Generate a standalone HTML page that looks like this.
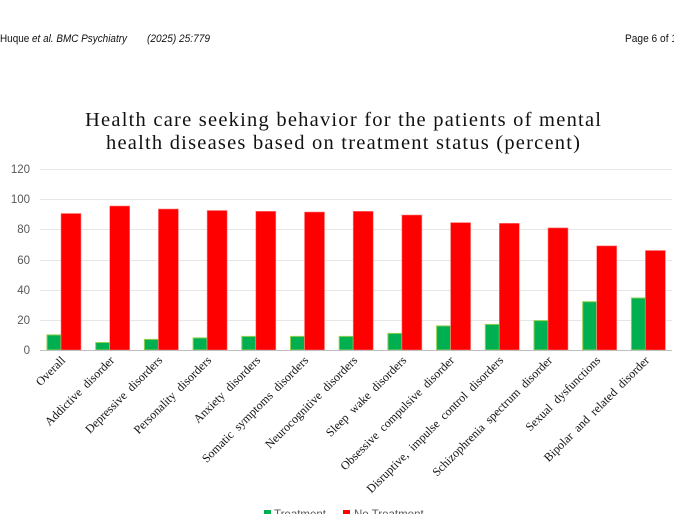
<!DOCTYPE html>
<html><head><meta charset="utf-8"><style>
html,body{margin:0;padding:0;background:#fff;width:674px;height:514px;overflow:hidden}
svg{display:block}
.hd{font-family:"Liberation Sans",sans-serif;font-size:11px;fill:#111}
.tt{font-family:"Liberation Serif",serif;font-size:20.5px;fill:#111}
.ax{font-family:"Liberation Sans",sans-serif;font-size:11.5px;fill:#595959}
.lb{font-family:"Liberation Serif",serif;font-size:12px;fill:#111;word-spacing:3px}
.lg{font-family:"Liberation Sans",sans-serif;font-size:11.5px;fill:#595959}
.g{fill:#00b050;stroke:#92d050;stroke-width:1}
.r{fill:#ff0000;stroke:#ff7f7f;stroke-width:0.6}
</style></head><body>
<svg width="674" height="514" xmlns="http://www.w3.org/2000/svg">
<text class="hd" x="0" y="42" font-style="italic" textLength="127" lengthAdjust="spacingAndGlyphs"><tspan font-style="normal">Huque</tspan> et al. BMC Psychiatry</text>
<text class="hd" x="147" y="42" font-style="italic" textLength="63" lengthAdjust="spacingAndGlyphs">(2025) 25:779</text>
<text class="hd" x="625" y="42" textLength="52" lengthAdjust="spacingAndGlyphs">Page 6 of 1</text>
<text class="tt" x="85" y="126" textLength="516" lengthAdjust="spacing">Health care seeking behavior for the patients of mental</text>
<text class="tt" x="106" y="149" textLength="474" lengthAdjust="spacing">health diseases based on treatment status (percent)</text>
<g stroke="#e6e6e6" stroke-width="1">
<line x1="40" x2="672" y1="169.5" y2="169.5"/><line x1="40" x2="672" y1="199.5" y2="199.5"/>
<line x1="40" x2="672" y1="229.5" y2="229.5"/><line x1="40" x2="672" y1="260.5" y2="260.5"/>
<line x1="40" x2="672" y1="290.5" y2="290.5"/><line x1="40" x2="672" y1="320.5" y2="320.5"/>
</g>
<g class="ax" text-anchor="end">
<text x="30" y="173">120</text><text x="30" y="203">100</text><text x="30" y="233">80</text>
<text x="30" y="264">60</text><text x="30" y="294">40</text><text x="30" y="324">20</text><text x="30" y="354">0</text>
</g>
<rect class="g" x="47" y="334.9" width="14" height="15.1"/><rect class="r" x="61" y="213.5" width="20" height="136.5"/>
<rect class="g" x="95.7" y="342.5" width="14" height="7.5"/><rect class="r" x="109.7" y="206" width="20" height="144"/>
<rect class="g" x="144.4" y="339.4" width="14" height="10.6"/><rect class="r" x="158.4" y="209" width="20" height="141"/>
<rect class="g" x="193.1" y="337.9" width="14" height="12.1"/><rect class="r" x="207.1" y="210.5" width="20" height="139.5"/>
<rect class="g" x="241.8" y="336.4" width="14" height="13.6"/><rect class="r" x="255.8" y="211.3" width="20" height="138.7"/>
<rect class="g" x="290.5" y="336.4" width="14" height="13.6"/><rect class="r" x="304.5" y="212" width="20" height="138"/>
<rect class="g" x="339.2" y="336.4" width="14" height="13.6"/><rect class="r" x="353.2" y="211.3" width="20" height="138.7"/>
<rect class="g" x="387.9" y="333.4" width="14" height="16.6"/><rect class="r" x="401.9" y="215" width="20" height="135"/>
<rect class="g" x="436.6" y="325.9" width="14" height="24.1"/><rect class="r" x="450.6" y="222.6" width="20" height="127.4"/>
<rect class="g" x="485.3" y="324.4" width="14" height="25.6"/><rect class="r" x="499.3" y="223.3" width="20" height="126.7"/>
<rect class="g" x="534" y="320.6" width="14" height="29.4"/><rect class="r" x="548" y="227.9" width="20" height="122.1"/>
<rect class="g" x="582.7" y="301.7" width="14" height="48.3"/><rect class="r" x="596.7" y="245.9" width="20" height="104.1"/>
<rect class="g" x="631.4" y="298" width="14" height="52"/><rect class="r" x="645.4" y="250.5" width="20" height="99.5"/>
<line x1="40" x2="672" y1="350.5" y2="350.5" stroke="#bfbfbf" stroke-width="1"/>
<g class="lb" text-anchor="end">
<text transform="translate(66,361) rotate(-45)">Overall</text>
<text transform="translate(115,361) rotate(-45)">Addictive disorder</text>
<text transform="translate(163,361) rotate(-45)">Depressive disorders</text>
<text transform="translate(212,361) rotate(-45)">Personality disorders</text>
<text transform="translate(261,361) rotate(-45)">Anxiety disorders</text>
<text transform="translate(309,361) rotate(-45)">Somatic symptoms disorders</text>
<text transform="translate(358,361) rotate(-45)">Neurocognitive disorders</text>
<text transform="translate(407,361) rotate(-45)">Sleep wake disorders</text>
<text transform="translate(455,361) rotate(-45)">Obsessive compulsive disorder</text>
<text transform="translate(504,361) rotate(-45)">Disruptive, impulse control disorders</text>
<text transform="translate(553,361) rotate(-45)">Schizophrenia spectrum disorder</text>
<text transform="translate(601,361) rotate(-45)">Sexual dysfunctions</text>
<text transform="translate(650,361) rotate(-45)">Bipolar and related disorder</text>
</g>
<rect x="264" y="510" width="7" height="7" fill="#00b050"/>
<text class="lg" x="274" y="518">Treatment</text>
<rect x="343" y="510" width="7" height="7" fill="#ff0000"/>
<text class="lg" x="354" y="518">No Treatment</text>
</svg>
</body></html>
